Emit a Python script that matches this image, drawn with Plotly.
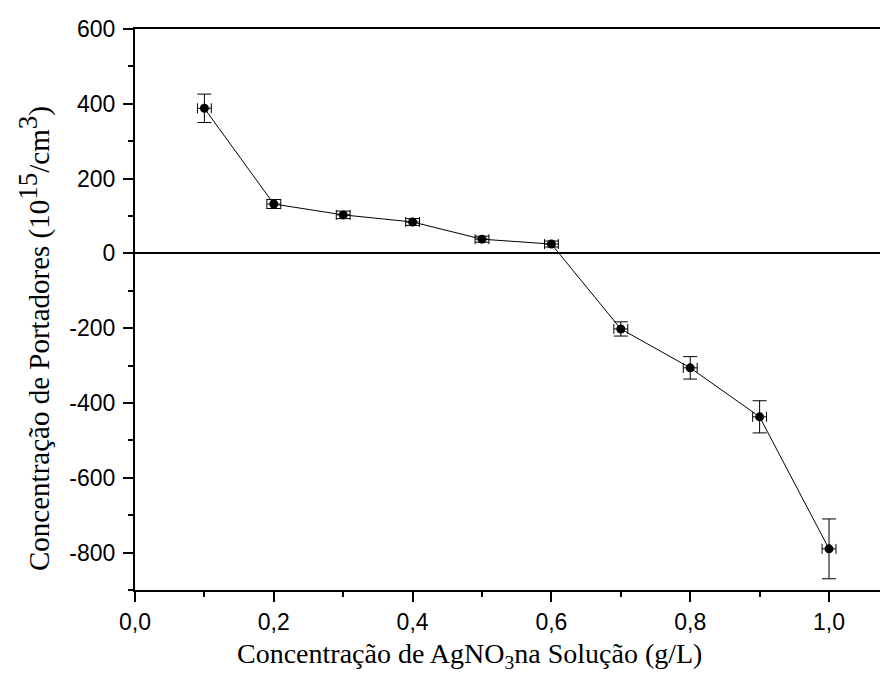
import plotly.graph_objects as go

conc = [0.1, 0.2, 0.3, 0.4, 0.5, 0.6, 0.7, 0.8, 0.9, 1.0]
carriers = [388, 132, 103, 84, 38, 25, -202, -306, -437, -790]
carriers_err = [38, 12, 10, 9, 8, 8, 19, 30, 43, 80]
conc_err = [0.01] * 10

x_ticks = [0.0, 0.2, 0.4, 0.6, 0.8, 1.0]
x_labels = ["0,0", "0,2", "0,4", "0,6", "0,8", "1,0"]
y_ticks = [600, 400, 200, 0, -200, -400, -600, -800]
y_labels = ["600", "400", "200", "0", "-200", "-400", "-600", "-800"]

fig = go.Figure()
fig.add_trace(go.Scatter(
    x=conc, y=carriers, mode="lines+markers",
    line=dict(color="black", width=1),
    marker=dict(color="black", size=9),
    error_y=dict(type="data", array=carriers_err, color="black", thickness=1, width=7),
    error_x=dict(type="data", array=conc_err, color="black", thickness=1, width=5),
    showlegend=False,
))

axis_common = dict(
    showline=True, linecolor="black", linewidth=2,
    ticks="outside", ticklen=10, tickwidth=2, tickcolor="black",
    showgrid=False,
    tickfont=dict(family="Liberation Sans, Arial", size=23, color="black"),
)

fig.update_xaxes(
    range=[0, 1.085], tickvals=x_ticks, ticktext=x_labels, mirror=True,
    minor=dict(ticks="outside", ticklen=5, tickwidth=2, tickcolor="black", dtick=0.1, tick0=0, showgrid=False),
    zeroline=False, **axis_common,
)
fig.update_yaxes(
    range=[-900, 600], tickvals=y_ticks, ticktext=y_labels, ticklabelstandoff=3,
    minor=dict(ticks="outside", ticklen=5, tickwidth=2, tickcolor="black", dtick=100, tick0=0, showgrid=False),
    zeroline=True, zerolinecolor="black", zerolinewidth=2,
    **axis_common,
)

# page offset of 8px (body margin) taken into account
L, T, R, B = 127, 21, 880, 582
PW, PH = R - L, B - T

fig.add_annotation(
    text="Concentração de AgNO<sub>3</sub>na Solução (g/L)",
    xref="paper", yref="paper", x=(461 - L) / PW, y=-(647 - B) / PH,
    xanchor="center", yanchor="middle", showarrow=False,
    font=dict(family="Liberation Serif, Times New Roman", size=28, color="black"),
)
fig.add_annotation(
    text="Concentração de Portadores (10<sup><span style='font-size:27px'>15</span></sup>"
         "/cm<sup><span style='font-size:27px'>3</span></sup>)",
    xref="paper", yref="paper", x=-(L - 26) / PW, y=(B - 331) / PH,
    xanchor="center", yanchor="middle", textangle=-90, showarrow=False,
    font=dict(family="Liberation Serif, Times New Roman", size=29, color="black"),
)

fig.update_layout(
    width=888, height=684,
    margin=dict(l=L, r=888 - R, t=T, b=684 - B),
    plot_bgcolor="white", paper_bgcolor="white",
)

fig.write_html("out.html")
